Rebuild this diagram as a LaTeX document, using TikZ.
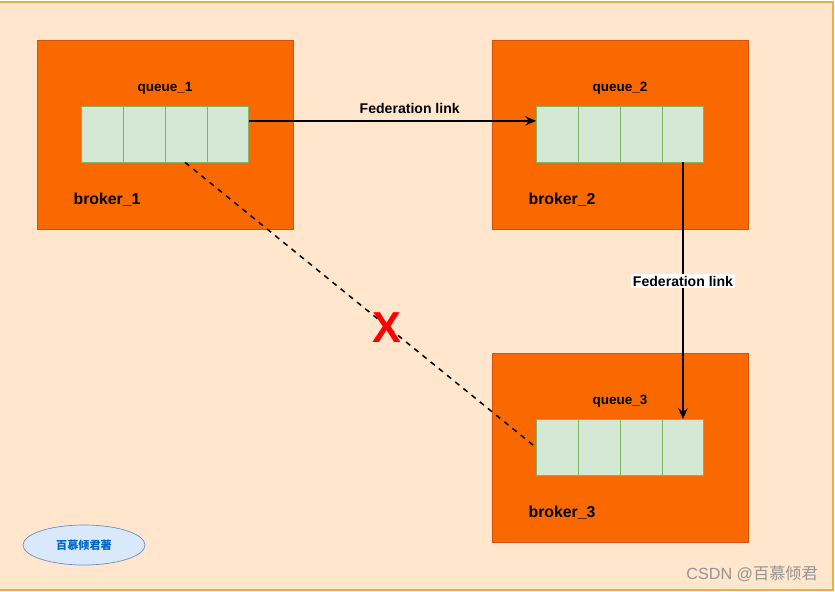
\documentclass[tikz,border=0pt]{standalone}
\usepackage{fontspec}
\setmainfont{Liberation Sans}
\newfontfamily\cjk{Noto Sans CJK SC}
\usetikzlibrary{arrows.meta,calc,shapes.geometric}

\definecolor{bgpeach}{HTML}{FFE6CC}
\definecolor{bgedge}{HTML}{E8B04A}
\definecolor{brokerfill}{HTML}{FA6800}
\definecolor{brokeredge}{HTML}{D4520A}
\definecolor{qfill}{HTML}{D5E8D4}
\definecolor{qedge}{HTML}{82B366}
\definecolor{tagfill}{HTML}{DAE8FC}
\definecolor{tagedge}{HTML}{6C8EBF}
\definecolor{tagtext}{HTML}{0066CC}

\tikzset{
  broker/.style={draw=brokeredge, fill=brokerfill, line width=0.8pt, minimum width=7.68cm, minimum height=5.67cm, inner sep=0pt},
  queue/.style={draw=qedge, fill=qfill, line width=0.8pt, minimum width=5.01cm, minimum height=1.68cm, inner sep=0pt},
  qlabel/.style={font=\bfseries\fontsize{11.5}{13}\selectfont},
  blabel/.style={font=\bfseries\fontsize{13.5}{15}\selectfont},
  fedlink/.style={-{Stealth[length=3.2mm, width=2.8mm, inset=1mm]}, line width=1.3pt},
  fedtext/.style={font=\bfseries\fontsize{12}{13}\selectfont, inner sep=1.5pt}
}

\begin{document}
\begin{tikzpicture}[x=0.03cm, y=-0.03cm]
	\useasboundingbox (0,0) rectangle (835,592);
	\begin{scope}
		\clip (0,0) rectangle (835,592);
		\fill[white] (0,0) rectangle (835,592);
		\draw[bgedge, fill=bgpeach, line width=1.2pt] (-5,2) rectangle (833,590);
	\end{scope}
	% brokers
	\node[broker] (b1) at (165,134.5) {};
	\node[broker] (b2) at (620,134.5) {};
	\node[broker] (b3) at (620,448) {};
	\node[blabel] at (107,200) {broker\_1};
	\node[blabel] at (562,200) {broker\_2};
	\node[blabel] at (562,513) {broker\_3};
	% queues
	\foreach \q/\x/\y in {q1/165/134, q2/620/134, q3/620/447.5} {
		\node[queue] (\q) at (\x,\y) {};
		\foreach \i in {1,2,3}
			\draw[qedge, line width=0.8pt] ($(\q.north west)!\i/4!(\q.north east)$) -- ($(\q.south west)!\i/4!(\q.south east)$);
	}
	\node[qlabel] at (165,88) {queue\_1};
	\node[qlabel] at (620,88) {queue\_2};
	\node[qlabel] at (620,401) {queue\_3};
	% links
	\coordinate (q1right) at ($(q1.north east)!0.27!(q1.south east)$);
	\coordinate (q2left) at ($(q2.north west)!0.27!(q2.south west)$);
	\coordinate (q1out) at ($(q1.south west)!0.62!(q1.south east)$);
	\coordinate (q2out) at ($(q2.south west)!0.875!(q2.south east)$);
	\coordinate (q3in) at ($(q3.north west)!0.875!(q3.north east)$);
	\draw[fedlink] (q1right) -- node[fedtext, above=4pt, pos=0.56] {Federation link} (q2left);
	\draw[fedlink] (q2out) -- node[fedtext, fill=white, pos=0.463] {Federation link} (q3in);
	\draw[line width=1.3pt, dash pattern=on 4.5pt off 4.5pt] (q1out) -- (q3.west);
	\node[text=red, font=\bfseries\fontsize{37}{40}\selectfont, inner sep=0pt] (cross) at (387,328) {X};
	% tags
	\node[ellipse, draw=tagedge, fill=tagfill, line width=0.6pt, minimum width=3.66cm, minimum height=1.2cm, inner sep=0pt, text=tagtext, font=\cjk\bfseries\fontsize{9.5}{11}\selectfont] (tag) at (84,545) {百慕倾君著};
	\node[text=black!42, font=\fontsize{13.8}{15}\selectfont, anchor=east, inner sep=0pt] (mark) at (818,574) {CSDN @{\cjk 百慕倾君}};
\end{tikzpicture}
\end{document}
